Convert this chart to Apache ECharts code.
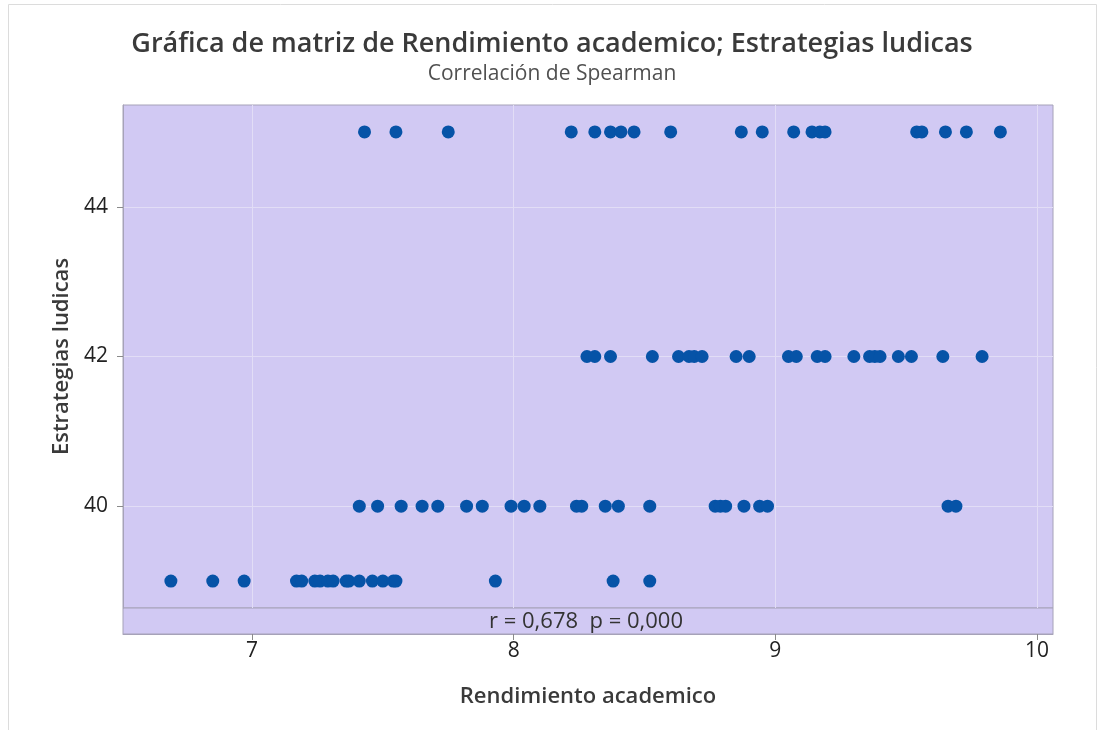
<!DOCTYPE html>
<html>
<head>
<meta charset="utf-8">
<script src="https://cdn.jsdelivr.net/npm/echarts@6/dist/echarts.min.js"></script>
<style>
	html, body { margin: 0; padding: 0; background: #fff; }
	#chart { width: 1104px; height: 730px; }
</style>
</head>
<body>
<div id="chart"></div>
<script>
// Rendimiento academico por nivel de Estrategias ludicas
const levels = [45, 42, 40, 39];
const rendimiento45 = [7.43, 7.55, 7.75, 8.22, 8.31, 8.37, 8.41, 8.46, 8.60, 8.87, 8.95, 9.07, 9.14, 9.17, 9.19, 9.54, 9.56, 9.65, 9.73, 9.86];
const rendimiento42 = [8.28, 8.31, 8.37, 8.53, 8.63, 8.67, 8.69, 8.72, 8.85, 8.90, 9.05, 9.08, 9.16, 9.19, 9.30, 9.36, 9.38, 9.40, 9.47, 9.52, 9.64, 9.79];
const rendimiento40 = [7.41, 7.48, 7.57, 7.65, 7.71, 7.82, 7.88, 7.99, 8.04, 8.10, 8.24, 8.26, 8.35, 8.40, 8.52, 8.77, 8.79, 8.81, 8.88, 8.94, 8.97, 9.66, 9.69];
const rendimiento39 = [6.69, 6.85, 6.97, 7.17, 7.19, 7.24, 7.26, 7.29, 7.31, 7.36, 7.37, 7.41, 7.46, 7.50, 7.54, 7.55, 7.93, 8.38, 8.52];
const xTicks = [7, 8, 9, 10];
const yTicks = [40, 42, 44];
const statText = 'r = 0,678  p = 0,000';

const groups = [rendimiento45, rendimiento42, rendimiento40, rendimiento39];
let points = [];
groups.forEach((g, i) => {
	g.forEach((v) => points.push([v, levels[i]]));
});

const bg = '#d1c9f3';
const gridLine = '#e2ddf6';
const frame = '#a6a2b8';
const font = '"Open Sans", "Noto Sans", sans-serif';

let chart = echarts.init(document.getElementById('chart'), null, { renderer: 'canvas' });
chart.setOption({
	animation: false,
	backgroundColor: '#fff',
	title: {
		text: 'Gráfica de matriz de Rendimiento academico; Estrategias ludicas',
		subtext: 'Correlación de Spearman',
		left: 'center',
		top: 26,
		itemGap: 6,
		textStyle: { color: '#3a3a3a', fontSize: 27, fontWeight: 600, fontFamily: font },
		subtextStyle: { color: '#505050', fontSize: 21, fontFamily: font },
	},
	grid: {
		left: 123,
		right: 51,
		top: 105,
		bottom: 122,
		show: true,
		backgroundColor: bg,
		borderColor: frame,
		borderWidth: 1,
	},
	xAxis: {
		type: 'value',
		min: 6.507,
		max: 10.061,
		offset: 26,
		name: 'Rendimiento academico',
		nameLocation: 'middle',
		nameGap: 52,
		nameTextStyle: { color: '#3a3a3a', fontSize: 22, fontWeight: 600, fontFamily: font },
		axisLine: { show: true, lineStyle: { color: frame } },
		axisTick: { show: true, length: 6, customValues: xTicks, lineStyle: { color: '#8a8a8a' } },
		axisLabel: { customValues: xTicks, color: '#222', fontSize: 21, margin: 7, fontFamily: font },
		splitLine: { show: true, lineStyle: { color: gridLine, width: 1 } },
	},
	yAxis: {
		type: 'value',
		min: 38.64,
		max: 45.36,
		name: 'Estrategias ludicas',
		nameLocation: 'middle',
		nameGap: 48,
		nameTextStyle: { color: '#3a3a3a', fontSize: 22, fontWeight: 600, fontFamily: font },
		axisLine: { show: true, lineStyle: { color: frame } },
		axisTick: { show: true, length: 6, customValues: yTicks, lineStyle: { color: '#8a8a8a' } },
		axisLabel: { customValues: yTicks, color: '#222', fontSize: 21, margin: 15, fontFamily: font },
		splitLine: { show: true, lineStyle: { color: gridLine, width: 1 } },
	},
	series: [
		{
			type: 'scatter',
			data: points,
			symbol: 'circle',
			symbolSize: 13,
			itemStyle: { color: '#0653a7', opacity: 1 },
		},
	],
	graphic: [
		{
			type: 'rect',
			shape: { x: 8.5, y: 4.5, width: 1088, height: 760 },
			style: { fill: 'none', stroke: '#dcdcdc', lineWidth: 1 },
			silent: true,
			z: -1,
		},
		{
			type: 'rect',
			shape: { x: 123, y: 608, width: 930, height: 26 },
			style: { fill: bg, stroke: frame, lineWidth: 1 },
			silent: true,
		},
		{
			type: 'text',
			x: 586,
			y: 622,
			style: {
				text: statText,
				fill: '#333',
				font: '22px ' + font,
				textAlign: 'center',
				textVerticalAlign: 'middle',
			},
			silent: true,
		},
	],
});
</script>
</body>
</html>
